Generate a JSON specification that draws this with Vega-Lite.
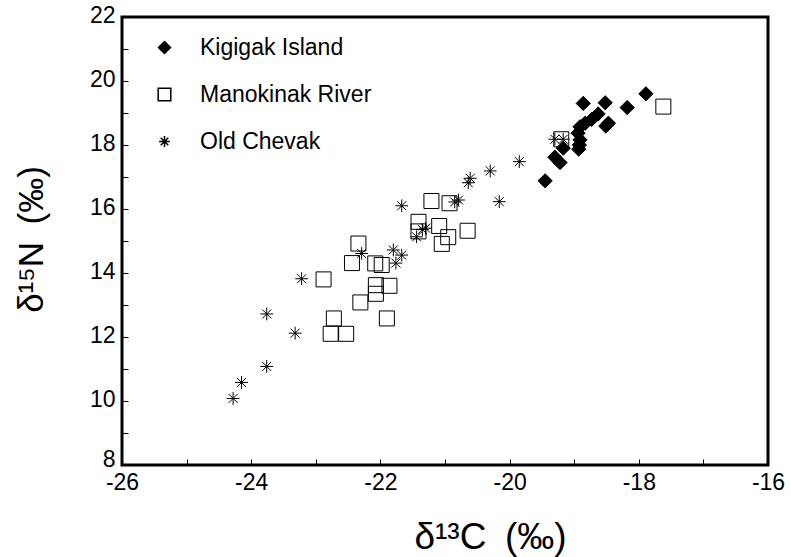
{
  "$schema": "https://vega.github.io/schema/vega-lite/v6.json",
  "width": 646,
  "height": 448,
  "autosize": {"type": "none"},
  "padding": {"left": 122, "top": 17, "right": 23, "bottom": 92},
  "background": "white",
  "config": {
    "view": {"stroke": "black", "strokeWidth": 3},
    "font": "Liberation Sans"
  },
  "data": {
    "values": [
      {"site": "Kigigak Island", "d13C": -17.89, "d15N": 19.6},
      {"site": "Kigigak Island", "d13C": -18.18, "d15N": 19.17},
      {"site": "Kigigak Island", "d13C": -18.86, "d15N": 19.3},
      {"site": "Kigigak Island", "d13C": -18.52, "d15N": 19.32},
      {"site": "Kigigak Island", "d13C": -18.51, "d15N": 18.59},
      {"site": "Kigigak Island", "d13C": -18.63, "d15N": 18.97},
      {"site": "Kigigak Island", "d13C": -18.73, "d15N": 18.8},
      {"site": "Kigigak Island", "d13C": -18.83, "d15N": 18.68},
      {"site": "Kigigak Island", "d13C": -18.47, "d15N": 18.68},
      {"site": "Kigigak Island", "d13C": -18.91, "d15N": 18.57},
      {"site": "Kigigak Island", "d13C": -18.94, "d15N": 18.37},
      {"site": "Kigigak Island", "d13C": -18.91, "d15N": 18.16},
      {"site": "Kigigak Island", "d13C": -18.92, "d15N": 18.0},
      {"site": "Kigigak Island", "d13C": -18.93, "d15N": 17.87},
      {"site": "Kigigak Island", "d13C": -19.17, "d15N": 17.9},
      {"site": "Kigigak Island", "d13C": -19.3, "d15N": 17.62},
      {"site": "Kigigak Island", "d13C": -19.22, "d15N": 17.45},
      {"site": "Kigigak Island", "d13C": -19.45, "d15N": 16.88},
      {"site": "Manokinak River", "d13C": -17.62, "d15N": 19.2},
      {"site": "Manokinak River", "d13C": -19.2, "d15N": 18.18},
      {"site": "Manokinak River", "d13C": -21.21, "d15N": 16.25},
      {"site": "Manokinak River", "d13C": -20.93, "d15N": 16.18},
      {"site": "Manokinak River", "d13C": -20.65, "d15N": 15.32},
      {"site": "Manokinak River", "d13C": -21.09, "d15N": 15.47},
      {"site": "Manokinak River", "d13C": -21.05, "d15N": 14.91},
      {"site": "Manokinak River", "d13C": -20.95, "d15N": 15.12},
      {"site": "Manokinak River", "d13C": -21.41, "d15N": 15.6},
      {"site": "Manokinak River", "d13C": -21.41, "d15N": 15.3},
      {"site": "Manokinak River", "d13C": -22.34, "d15N": 14.92},
      {"site": "Manokinak River", "d13C": -22.44, "d15N": 14.31},
      {"site": "Manokinak River", "d13C": -22.08, "d15N": 14.3},
      {"site": "Manokinak River", "d13C": -21.98, "d15N": 14.25},
      {"site": "Manokinak River", "d13C": -22.88, "d15N": 13.8},
      {"site": "Manokinak River", "d13C": -22.07, "d15N": 13.62},
      {"site": "Manokinak River", "d13C": -22.07, "d15N": 13.35},
      {"site": "Manokinak River", "d13C": -21.86, "d15N": 13.6},
      {"site": "Manokinak River", "d13C": -22.31, "d15N": 13.08},
      {"site": "Manokinak River", "d13C": -22.72, "d15N": 12.58},
      {"site": "Manokinak River", "d13C": -21.9, "d15N": 12.58},
      {"site": "Manokinak River", "d13C": -22.77, "d15N": 12.1},
      {"site": "Manokinak River", "d13C": -22.53, "d15N": 12.1},
      {"site": "Old Chevak", "d13C": -19.17, "d15N": 18.18},
      {"site": "Old Chevak", "d13C": -19.3, "d15N": 18.18},
      {"site": "Old Chevak", "d13C": -19.85, "d15N": 17.48},
      {"site": "Old Chevak", "d13C": -20.3, "d15N": 17.19},
      {"site": "Old Chevak", "d13C": -20.61, "d15N": 16.96},
      {"site": "Old Chevak", "d13C": -20.64, "d15N": 16.82},
      {"site": "Old Chevak", "d13C": -20.79, "d15N": 16.28},
      {"site": "Old Chevak", "d13C": -20.85, "d15N": 16.22},
      {"site": "Old Chevak", "d13C": -20.16, "d15N": 16.23},
      {"site": "Old Chevak", "d13C": -21.67, "d15N": 16.1},
      {"site": "Old Chevak", "d13C": -21.35, "d15N": 15.36},
      {"site": "Old Chevak", "d13C": -21.3, "d15N": 15.4},
      {"site": "Old Chevak", "d13C": -21.44, "d15N": 15.13},
      {"site": "Old Chevak", "d13C": -22.29, "d15N": 14.61},
      {"site": "Old Chevak", "d13C": -21.8, "d15N": 14.72},
      {"site": "Old Chevak", "d13C": -21.67, "d15N": 14.56},
      {"site": "Old Chevak", "d13C": -21.76, "d15N": 14.31},
      {"site": "Old Chevak", "d13C": -23.22, "d15N": 13.82},
      {"site": "Old Chevak", "d13C": -23.76, "d15N": 12.72},
      {"site": "Old Chevak", "d13C": -23.32, "d15N": 12.12},
      {"site": "Old Chevak", "d13C": -23.76, "d15N": 11.08},
      {"site": "Old Chevak", "d13C": -24.15, "d15N": 10.58},
      {"site": "Old Chevak", "d13C": -24.28, "d15N": 10.08}
    ]
  },
  "mark": {"type": "point", "stroke": "black", "strokeWidth": 1, "size": 225, "opacity": 1},
  "encoding": {
    "x": {
      "field": "d13C", "type": "quantitative",
      "scale": {"domain": [-26, -16], "nice": false, "zero": false},
      "axis": {
        "title": "δ¹³C\u2002(‰)",
        "values": [-26, -25, -24, -23, -22, -21, -20, -19, -18, -17, -16],
        "labelExpr": "datum.value % 2 === 0 ? '' + datum.value : ''",
        "grid": false, "domain": false,
        "tickSize": -6, "tickColor": "black", "tickWidth": 1,
        "labelPadding": 12, "labelFontSize": 23, "labelColor": "black", "labelFlush": false,
        "titleFontSize": 37, "titleColor": "black", "titleFontWeight": "normal",
        "titleX": 368, "titleY": 83, "titleBaseline": "alphabetic"
      }
    },
    "y": {
      "field": "d15N", "type": "quantitative",
      "scale": {"domain": [8, 22], "nice": false, "zero": false},
      "axis": {
        "title": "δ¹⁵N\u2002(‰)",
        "values": [8, 9, 10, 11, 12, 13, 14, 15, 16, 17, 18, 19, 20, 21, 22],
        "labelExpr": "datum.value % 2 === 0 ? '' + datum.value : ''",
        "grid": false, "domain": false,
        "tickSize": -6, "tickColor": "black", "tickWidth": 1,
        "labelPadding": 13,
        "labelOffset": {"condition": {"test": "datum.value === 8", "value": -6}, "value": -2},
        "labelFontSize": 23, "labelColor": "black", "labelFlush": false,
        "titleFontSize": 35, "titleColor": "black", "titleFontWeight": "normal",
        "titleX": -80, "titleY": 222, "titleAngle": -90, "titleBaseline": "alphabetic"
      }
    },
    "shape": {
      "field": "site", "type": "nominal",
      "scale": {
        "domain": ["Kigigak Island", "Manokinak River", "Old Chevak"],
        "range": [
          "M-0.95,0L0,-0.95L0.95,0L0,0.95Z",
          "M-1,-1L1,-1L1,1L-1,1Z",
          "M-0.85,0L0.85,0M0,-0.85L0,0.85M-0.6,-0.6L0.6,0.6M-0.6,0.6L0.6,-0.6"
        ]
      },
      "legend": {
        "title": null, "orient": "none", "legendX": 31, "legendY": 19,
        "labelFontSize": 23, "labelColor": "black", "labelLimit": 400, "symbolSize": 160,
        "rowPadding": 23, "labelOffset": 24, "symbolOffset": 0,
        "encode": {"symbols": {"update": {"stroke": {"value": "black"}, "strokeWidth": {"value": 1}}}}
      }
    },
    "fill": {
      "field": "site", "type": "nominal",
      "scale": {
        "domain": ["Kigigak Island", "Manokinak River", "Old Chevak"],
        "range": ["black", "transparent", "transparent"]
      },
      "legend": {
        "title": null, "orient": "none", "legendX": 31, "legendY": 19,
        "labelFontSize": 23, "labelColor": "black", "labelLimit": 400, "symbolSize": 160,
        "rowPadding": 23, "labelOffset": 24, "symbolOffset": 0,
        "encode": {"symbols": {"update": {"stroke": {"value": "black"}, "strokeWidth": {"value": 1}}}}
      }
    }
  }
}
